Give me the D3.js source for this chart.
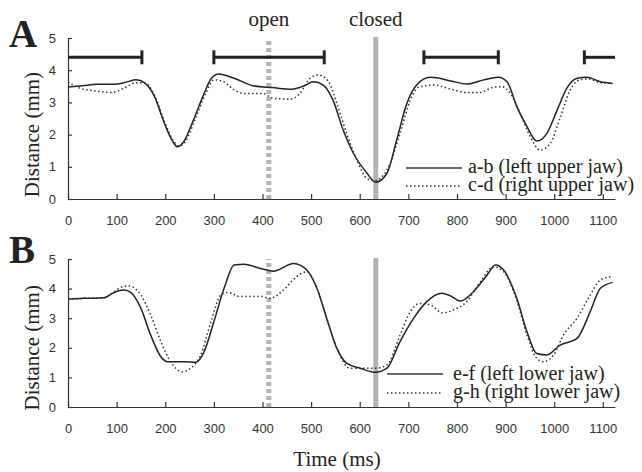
<!DOCTYPE html>
<html>
<head>
<meta charset="utf-8">
<script src="https://cdn.jsdelivr.net/npm/d3@7"></script>
<style>
  body { margin: 0; background: #fff; }
  .tick text { font-family: "Liberation Sans", Arial, sans-serif; font-size: 13px; fill: #333; }
  .serif { font-family: "Liberation Serif", "Times New Roman", serif; fill: #222; }
</style>
</head>
<body>
<script>
// panel A, upper jaw
var abTime = [0, 30, 60, 95, 120, 140, 158, 178, 198, 215, 225, 238, 258, 280, 295, 310, 340, 380, 420, 460, 485, 505, 525, 545, 566, 587, 615, 633, 656, 676, 697, 717, 745, 790, 820, 855, 885, 903, 923, 944, 964, 985, 1006, 1026, 1047, 1067, 1095, 1120];
var abVal  = [3.48, 3.52, 3.56, 3.56, 3.63, 3.70, 3.60, 3.18, 2.36, 1.80, 1.62, 1.78, 2.45, 3.28, 3.75, 3.88, 3.76, 3.52, 3.46, 3.41, 3.51, 3.64, 3.54, 3.07, 2.14, 1.42, 0.80, 0.52, 0.80, 1.83, 2.97, 3.54, 3.78, 3.66, 3.57, 3.70, 3.78, 3.64, 2.87, 2.25, 1.80, 2.04, 2.76, 3.44, 3.75, 3.78, 3.64, 3.59];
var cdTime = [0, 25, 60, 90, 115, 140, 160, 180, 200, 218, 228, 242, 262, 284, 300, 320, 342, 362, 400, 422, 457, 477, 498, 515, 536, 553, 573, 594, 615, 630, 656, 683, 704, 721, 752, 790, 820, 848, 875, 892, 910, 930, 951, 971, 992, 1012, 1033, 1053, 1070, 1095, 1120];
var cdVal  = [3.64, 3.44, 3.35, 3.31, 3.44, 3.61, 3.59, 3.15, 2.35, 1.78, 1.65, 1.80, 2.50, 3.30, 3.70, 3.64, 3.39, 3.28, 3.28, 3.13, 3.10, 3.28, 3.75, 3.85, 3.64, 2.97, 2.04, 1.21, 0.64, 0.57, 0.90, 2.04, 3.07, 3.47, 3.54, 3.40, 3.31, 3.31, 3.47, 3.49, 3.28, 2.66, 1.93, 1.52, 1.73, 2.51, 3.39, 3.70, 3.73, 3.61, 3.59];

// panel B, lower jaw
var efTime = [0, 33, 74, 95, 115, 129, 150, 170, 191, 205, 239, 263, 280, 300, 321, 342, 362, 400, 422, 464, 491, 512, 532, 553, 573, 601, 632, 656, 683, 711, 738, 769, 786, 807, 834, 862, 879, 896, 923, 944, 964, 985, 1012, 1047, 1074, 1095, 1120];
var efVal  = [3.64, 3.67, 3.69, 3.87, 3.95, 3.87, 3.33, 2.43, 1.70, 1.53, 1.53, 1.51, 1.87, 2.88, 4.01, 4.80, 4.82, 4.66, 4.59, 4.85, 4.63, 4.01, 3.00, 1.98, 1.48, 1.31, 1.17, 1.31, 2.21, 3.00, 3.56, 3.84, 3.76, 3.58, 3.90, 4.46, 4.80, 4.63, 3.67, 2.54, 1.81, 1.76, 2.09, 2.32, 3.22, 4.01, 4.21];
var ghTime = [0, 33, 74, 95, 108, 125, 150, 170, 191, 211, 235, 252, 273, 294, 314, 328, 355, 400, 416, 443, 470, 491, 512, 532, 553, 580, 632, 656, 683, 704, 724, 745, 770, 793, 820, 848, 875, 896, 923, 944, 964, 978, 999, 1019, 1047, 1074, 1095, 1116];
var ghVal  = [3.64, 3.67, 3.69, 3.90, 4.04, 4.09, 3.78, 3.11, 2.21, 1.53, 1.19, 1.31, 1.76, 2.88, 3.78, 3.87, 3.73, 3.73, 3.67, 3.95, 4.40, 4.57, 4.01, 3.00, 1.98, 1.31, 1.31, 1.42, 2.43, 3.22, 3.50, 3.45, 3.18, 3.28, 3.56, 4.23, 4.74, 4.57, 3.60, 2.43, 1.64, 1.53, 1.76, 2.43, 3.00, 3.78, 4.29, 4.40];

var xTicks = [0, 100, 200, 300, 400, 500, 600, 700, 800, 900, 1000, 1100];
var yTicks = [0, 1, 2, 3, 4, 5];
// bracket intervals (ms) drawn at 4.4 mm in panel A
var brackets = [[0, 152], [300, 527], [732, 885], [1062, 1125]];
var openTime = 413;
var closedTime = 633;

var width = 642, height = 472;
var svg = d3.select('body').append('svg')
  .attr('width', width)
  .attr('height', height);

var x = d3.scaleLinear().domain([0, 1125]).range([68, 615]);
var yA = d3.scaleLinear().domain([0, 5]).range([199, 38]);
var yB = d3.scaleLinear().domain([0, 5]).range([407, 259]);

function zip(t, v) {
  return t.map(function(d, i) { return [d, v[i]]; });
}

function drawPanel(y, series, letter, letterY, legend) {
  var g = svg.append('g');

  // gray open / closed markers
  g.append('line')
    .attr('x1', x(openTime)).attr('x2', x(openTime))
    .attr('y1', y(0)).attr('y2', y(5))
    .attr('stroke', '#b3b3b3')
    .attr('stroke-width', 5)
    .attr('stroke-dasharray', '4,3');
  g.append('line')
    .attr('x1', x(closedTime)).attr('x2', x(closedTime))
    .attr('y1', y(0)).attr('y2', y(5.03))
    .attr('stroke', '#b3b3b3')
    .attr('stroke-width', 5);

  var xAxis = d3.axisBottom(x).tickValues(xTicks).tickFormat(d3.format('d'))
    .tickSizeInner(-5).tickSizeOuter(0).tickPadding(17);
  var yAxis = d3.axisLeft(y).tickValues(yTicks).tickFormat(d3.format('d'))
    .tickSizeInner(-4).tickSizeOuter(0).tickPadding(12);

  g.append('g').attr('transform', 'translate(0,' + y(0) + ')').call(xAxis)
    .call(function(s) { s.selectAll('path,line').attr('stroke', '#333').attr('stroke-width', 1.2); });
  g.append('g').attr('transform', 'translate(' + x(0) + ',0)').call(yAxis)
    .call(function(s) { s.selectAll('path,line').attr('stroke', '#333').attr('stroke-width', 1.2); });

  var line = d3.line()
    .x(function(d) { return x(d[0]); })
    .y(function(d) { return y(d[1]); })
    .curve(d3.curveMonotoneX);

  g.append('path').datum(series[0])
    .attr('d', line)
    .attr('fill', 'none')
    .attr('stroke', '#222')
    .attr('stroke-width', 1.5);
  g.append('path').datum(series[1])
    .attr('d', line)
    .attr('fill', 'none')
    .attr('stroke', '#333')
    .attr('stroke-width', 1.5)
    .attr('stroke-dasharray', '1.5,2.5');

  // letter
  svg.append('text').attr('class', 'serif')
    .attr('x', 9).attr('y', letterY)
    .style('font-size', '39px').style('font-weight', 'bold')
    .text(letter);

  // y title
  svg.append('text').attr('class', 'serif')
    .attr('transform', 'translate(39,' + ((y(0) + y(4)) / 2) + ') rotate(-90)')
    .attr('text-anchor', 'middle')
    .style('font-size', '21px')
    .text('Distance (mm)');

  // legend
  legend.forEach(function(l, i) {
    svg.append('line')
      .attr('x1', l.x1).attr('x2', l.x2)
      .attr('y1', l.ly).attr('y2', l.ly)
      .attr('stroke', '#333')
      .attr('stroke-width', 1.5)
      .attr('stroke-dasharray', i == 1 ? '1.5,2.5' : null);
    svg.append('text').attr('class', 'serif')
      .attr('x', l.tx).attr('y', l.ty)
      .style('font-size', '20px')
      .text(l.label);
  });
}

drawPanel(yA, [zip(abTime, abVal), zip(cdTime, cdVal)], 'A', 47, [
  { x1: 406, x2: 462, ly: 168, tx: 468, ty: 173, label: 'a-b (left upper jaw)' },
  { x1: 406, x2: 462, ly: 186, tx: 468, ty: 191, label: 'c-d (right upper jaw)' }
]);
drawPanel(yB, [zip(efTime, efVal), zip(ghTime, ghVal)], 'B', 263, [
  { x1: 387, x2: 443, ly: 374, tx: 453, ty: 380, label: 'e-f (left lower jaw)' },
  { x1: 387, x2: 443, ly: 393, tx: 453, ty: 398, label: 'g-h (right lower jaw)' }
]);

// brackets in panel A
var bracketG = svg.append('g');
brackets.forEach(function(b) {
  var yy = yA(4.4);
  bracketG.append('line')
    .attr('x1', x(b[0])).attr('x2', x(b[1]))
    .attr('y1', yy).attr('y2', yy)
    .attr('stroke', '#222').attr('stroke-width', 3);
  [b[0], b[1]].forEach(function(t) {
    if (t == 0 || t == 1125) return;
    bracketG.append('line')
      .attr('x1', x(t)).attr('x2', x(t))
      .attr('y1', yy - 7).attr('y2', yy + 7)
      .attr('stroke', '#222').attr('stroke-width', 3);
  });
});

// open / closed labels
svg.append('text').attr('class', 'serif')
  .attr('x', x(openTime)).attr('y', 26)
  .attr('text-anchor', 'middle').style('font-size', '21px')
  .text('open');
svg.append('text').attr('class', 'serif')
  .attr('x', x(closedTime)).attr('y', 26)
  .attr('text-anchor', 'middle').style('font-size', '21px')
  .text('closed');

// x title
svg.append('text').attr('class', 'serif')
  .attr('x', 337).attr('y', 466)
  .attr('text-anchor', 'middle').style('font-size', '21px')
  .text('Time (ms)');
</script>
</body>
</html>
